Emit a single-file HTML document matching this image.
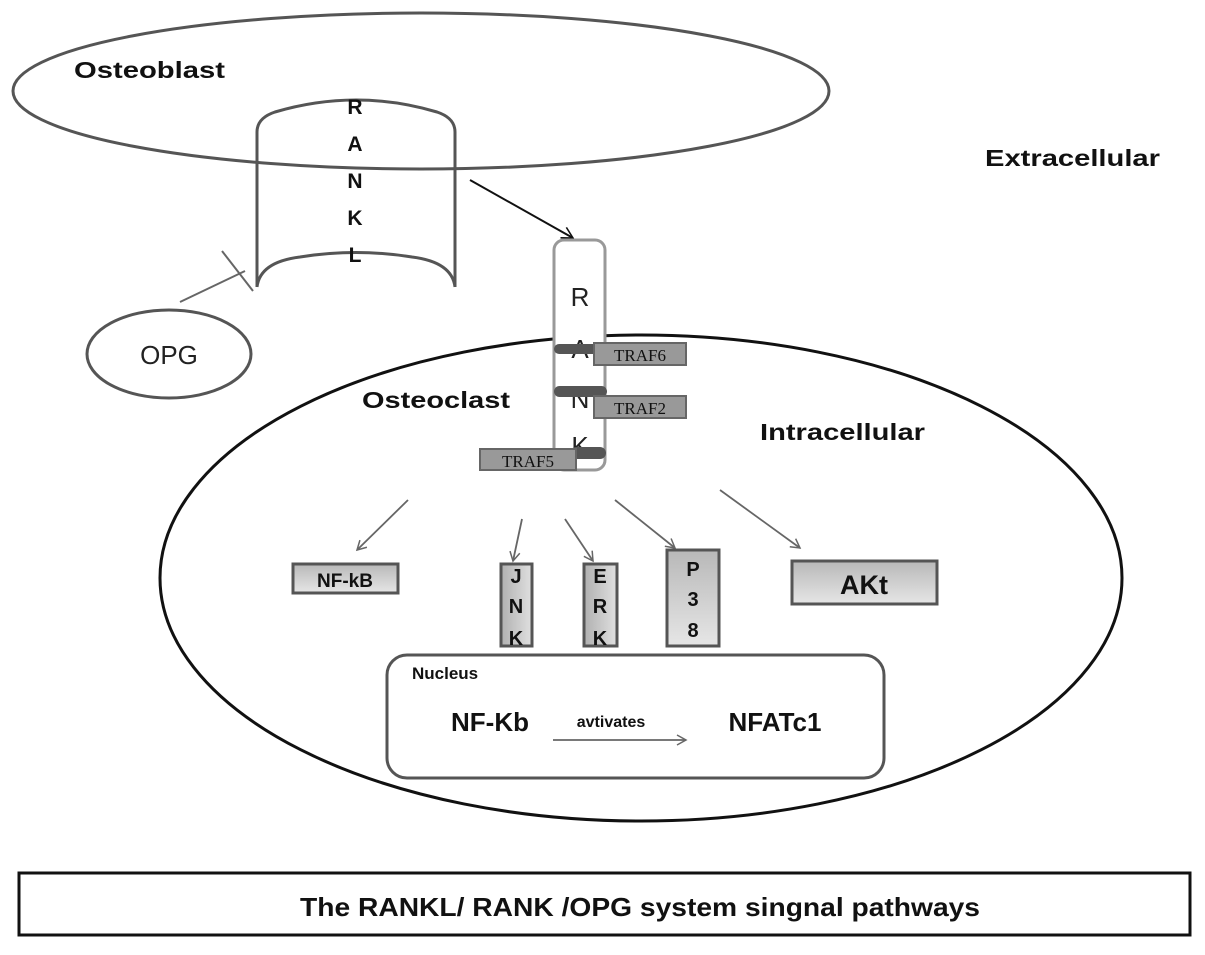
<!DOCTYPE html>
<html><head><meta charset="utf-8"><style>
html,body{margin:0;padding:0;background:#fff;}
svg text{font-family:"Liberation Sans",sans-serif;}
</style></head><body>
<svg width="1205" height="950" viewBox="0 0 1205 950" xmlns="http://www.w3.org/2000/svg">
<defs>
<linearGradient id="g" x1="0" y1="0" x2="0" y2="1"><stop offset="0" stop-color="#b8b8b8"/><stop offset="1" stop-color="#e6e6e6"/></linearGradient>
<linearGradient id="gh" x1="0" y1="0" x2="1" y2="0"><stop offset="0" stop-color="#b0b0b0"/><stop offset="1" stop-color="#e0e0e0"/></linearGradient>
<marker id="a" markerWidth="12" markerHeight="12" refX="10" refY="6" orient="auto" markerUnits="userSpaceOnUse"><path d="M1,1 L10,6 L1,11" fill="none" stroke="#666" stroke-width="1.5"/></marker>
<marker id="ab" markerWidth="14" markerHeight="14" refX="12" refY="7" orient="auto" markerUnits="userSpaceOnUse"><path d="M1,1 L12,7 L1,13" fill="none" stroke="#111" stroke-width="1.6"/></marker>
</defs>
<ellipse cx="421" cy="91" rx="408" ry="78" fill="none" stroke="#555" stroke-width="3"/>
<path d="M257,287 L257,132 Q257,118 275,112 Q356,88 437,112 Q455,118 455,132 L455,287" fill="none" stroke="#555" stroke-width="3"/>
<path d="M257,287 Q260,262 300,257 Q356,248 412,257 Q452,262 455,287" fill="none" stroke="#555" stroke-width="3"/>
<g font-weight="bold" font-size="21" text-anchor="middle" fill="#111">
<text x="355" y="114">R</text><text x="355" y="151">A</text><text x="355" y="188">N</text><text x="355" y="225">K</text><text x="355" y="262">L</text>
</g>
<ellipse cx="169" cy="354" rx="82" ry="44" fill="none" stroke="#555" stroke-width="3"/>
<text x="169" y="364" font-size="26" text-anchor="middle" fill="#222">OPG</text>
<line x1="180" y1="302" x2="245" y2="271" stroke="#666" stroke-width="2"/>
<line x1="222" y1="251" x2="253" y2="291" stroke="#666" stroke-width="2"/>
<ellipse cx="641" cy="578" rx="481" ry="243" fill="none" stroke="#111" stroke-width="3"/>
<line x1="470" y1="180" x2="573" y2="238" stroke="#111" stroke-width="2" marker-end="url(#ab)"/>
<rect x="554" y="240" width="51" height="230" rx="10" fill="#fff" stroke="#999" stroke-width="3"/>
<g font-size="26" text-anchor="middle" fill="#222">
<text x="580" y="306">R</text><text x="580" y="358">A</text><text x="580" y="408">N</text><text x="580" y="455">K</text>
</g>
<rect x="554" y="344" width="51" height="10" rx="5" fill="#555"/>
<rect x="594" y="343" width="92" height="22" fill="#999" stroke="#666" stroke-width="2"/>
<text x="640" y="361" font-size="17" text-anchor="middle" fill="#111" style="font-family:'Liberation Serif',serif">TRAF6</text>
<rect x="554" y="386" width="53" height="11" rx="5.5" fill="#555"/>
<rect x="594" y="396" width="92" height="22" fill="#999" stroke="#666" stroke-width="2"/>
<text x="640" y="414" font-size="17" text-anchor="middle" fill="#111" style="font-family:'Liberation Serif',serif">TRAF2</text>
<rect x="570" y="447" width="36" height="12" rx="6" fill="#555"/>
<rect x="480" y="449" width="96" height="21" fill="#999" stroke="#666" stroke-width="2"/>
<text x="528" y="467" font-size="17" text-anchor="middle" fill="#111" style="font-family:'Liberation Serif',serif">TRAF5</text>
<g font-weight="bold" font-size="23" fill="#111">
<text x="74" y="78" textLength="151" lengthAdjust="spacingAndGlyphs">Osteoblast</text>
<text x="985" y="166" textLength="175" lengthAdjust="spacingAndGlyphs">Extracellular</text>
<text x="362" y="408" textLength="148" lengthAdjust="spacingAndGlyphs">Osteoclast</text>
<text x="760" y="440" textLength="165" lengthAdjust="spacingAndGlyphs">Intracellular</text>
</g>
<g stroke="#666" stroke-width="1.8" marker-end="url(#a)">
<line x1="408" y1="500" x2="357" y2="550"/>
<line x1="522" y1="519" x2="513" y2="561"/>
<line x1="565" y1="519" x2="593" y2="561"/>
<line x1="615" y1="500" x2="675" y2="548"/>
<line x1="720" y1="490" x2="800" y2="548"/>
</g>
<g stroke="#555" stroke-width="3">
<rect x="293" y="564" width="105" height="29" fill="url(#g)"/>
<rect x="501" y="564" width="31" height="82" fill="url(#gh)"/>
<rect x="584" y="564" width="33" height="82" fill="url(#gh)"/>
<rect x="667" y="550" width="52" height="96" fill="url(#g)"/>
<rect x="792" y="561" width="145" height="43" fill="url(#g)"/>
</g>
<g font-weight="bold" fill="#111" text-anchor="middle">
<text x="345" y="587" font-size="19">NF-kB</text>
<text x="516" y="583" font-size="20">J</text><text x="516" y="613" font-size="20">N</text><text x="516" y="645" font-size="20">K</text>
<text x="600" y="583" font-size="20">E</text><text x="600" y="613" font-size="20">R</text><text x="600" y="645" font-size="20">K</text>
<text x="693" y="576" font-size="20">P</text><text x="693" y="606" font-size="20">3</text><text x="693" y="637" font-size="20">8</text>
<text x="864" y="594" font-size="27">AKt</text>
</g>
<rect x="387" y="655" width="497" height="123" rx="20" fill="#fff" stroke="#555" stroke-width="3"/>
<text x="412" y="679" font-weight="bold" font-size="17" fill="#111">Nucleus</text>
<text x="490" y="731" font-weight="bold" font-size="26" text-anchor="middle" fill="#111">NF-Kb</text>
<text x="611" y="727" font-weight="bold" font-size="16" text-anchor="middle" fill="#111">avtivates</text>
<text x="775" y="731" font-weight="bold" font-size="26" text-anchor="middle" fill="#111">NFATc1</text>
<line x1="553" y1="740" x2="686" y2="740" stroke="#666" stroke-width="1.8" marker-end="url(#a)"/>
<rect x="19" y="873" width="1171" height="62" fill="#fff" stroke="#111" stroke-width="3"/>
<text x="640" y="916" font-weight="bold" font-size="26" text-anchor="middle" fill="#111" textLength="680" lengthAdjust="spacingAndGlyphs">The RANKL/ RANK /OPG system singnal pathways</text>
</svg>
</body></html>
